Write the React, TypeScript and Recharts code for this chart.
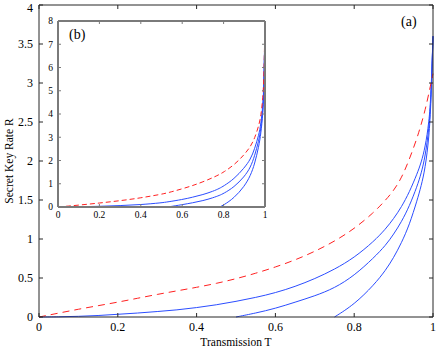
import React from "react";
import { ComposedChart, Line, XAxis, YAxis, CartesianGrid } from "recharts";

// main panel (a)
const mainT = [0, 0.05, 0.1, 0.15, 0.2, 0.25, 0.3, 0.35, 0.4, 0.45, 0.5, 0.55, 0.6, 0.65, 0.7, 0.75, 0.8, 0.85, 0.88, 0.9, 0.92, 0.94, 0.96, 0.97, 0.98, 0.99, 0.995, 1];
const mainBound = [0, 0.05, 0.1, 0.145, 0.19, 0.24, 0.29, 0.335, 0.38, 0.43, 0.49, 0.56, 0.64, 0.73, 0.84, 0.97, 1.13, 1.34, 1.5, 1.62, 1.78, 2.02, 2.3, 2.47, 2.65, 2.88, 3.0, 3.12];
const mainHigh = [0, 0.002, 0.008, 0.018, 0.035, 0.05, 0.07, 0.09, 0.12, 0.155, 0.2, 0.25, 0.31, 0.39, 0.49, 0.61, 0.76, 0.97, 1.13, 1.26, 1.41, 1.6, 1.84, 1.98, 2.17, 2.5, 2.85, 3.6];
const mainMid = [null, null, null, null, null, null, null, null, null, null, 0, 0.05, 0.11, 0.19, 0.27, 0.37, 0.53, 0.76, 0.92, 1.06, 1.22, 1.42, 1.68, 1.84, 2.05, 2.42, 2.8, 3.6];
const mainLow = [null, null, null, null, null, null, null, null, null, null, null, null, null, null, null, 0, 0.16, 0.41, 0.6, 0.76, 0.95, 1.18, 1.5, 1.68, 1.9, 2.3, 2.75, 3.6];

// inset panel (b)
const insetT = [0, 0.1, 0.2, 0.3, 0.4, 0.5, 0.53, 0.6, 0.65, 0.7, 0.75, 0.78, 0.8, 0.85, 0.9, 0.93, 0.95, 0.97, 0.98, 0.99, 0.995, 1];
const insetBound = [0, 0.08, 0.17, 0.27, 0.39, 0.55, 0.61, 0.78, 0.92, 1.08, 1.27, 1.4, 1.5, 1.8, 2.25, 2.6, 2.95, 3.5, 3.9, 4.7, 5.6, 8];
const insetHigh = [0, 0.005, 0.03, 0.06, 0.1, 0.18, 0.22, 0.32, 0.42, 0.53, 0.68, 0.8, 0.9, 1.2, 1.68, 2.05, 2.5, 3.1, 3.55, 4.4, 5.3, 8];
const insetMid = [null, null, null, null, null, null, 0, 0.1, 0.18, 0.27, 0.4, 0.5, 0.58, 0.85, 1.3, 1.7, 2.2, 2.85, 3.35, 4.2, 5.1, 8];
const insetLow = [null, null, null, null, null, null, null, null, null, null, null, 0, 0.08, 0.38, 0.88, 1.35, 1.85, 2.6, 3.15, 4.0, 5.0, 8];

const xTicks = [0, 0.2, 0.4, 0.6, 0.8, 1];
const mainYTicks = [0, 0.5, 1, 1.5, 2, 2.5, 3, 3.5, 4];
const insetYTicks = [0, 1, 2, 3, 4, 5, 6, 7, 8];

const mainRows = mainT.map((t, i) => ({ t, bound: mainBound[i], high: mainHigh[i], mid: mainMid[i], low: mainLow[i] }));
const insetRows = insetT.map((t, i) => ({ t, bound: insetBound[i], high: insetHigh[i], mid: insetMid[i], low: insetLow[i] }));

const font = "Liberation Serif";
const blue = "#2b4dff";
const red = "#ff2020";
const blank = () => "";

const curves = (dash: string) => [
    <Line key="h" dataKey="high" type="basis" stroke={blue} strokeWidth={1} dot={false} isAnimationActive={false} />,
    <Line key="m" dataKey="mid" type="basis" stroke={blue} strokeWidth={1} dot={false} isAnimationActive={false} />,
    <Line key="l" dataKey="low" type="basis" stroke={blue} strokeWidth={1} dot={false} isAnimationActive={false} />,
    <Line key="b" dataKey="bound" type="basis" stroke={red} strokeWidth={1} strokeDasharray={dash} dot={false} isAnimationActive={false} />,
    // invisible series tied to the top/right frame axes
    <Line key="f" xAxisId="top" yAxisId="right" dataKey="high" stroke="none" dot={false} activeDot={false} isAnimationActive={false} />,
];

export default function App() {
    const mainTick = { fontSize: 12, fill: "#000", fontFamily: font };
    const insetTick = { fontSize: 9.5, fill: "#000", fontFamily: font };
    const frame = { stroke: "#262626" };
    const insetFrame = { stroke: "#7a7a7a", strokeWidth: 2 };
    const insetTickLine = { stroke: "#7a7a7a" };
    return (
        <div style={{ position: "absolute", left: 0, top: 0, width: 436, height: 353, background: "#fff", fontFamily: font }}>
            <ComposedChart width={436} height={353} data={mainRows} margin={{ top: 4, right: 2, bottom: 0, left: 9 }}>
                <XAxis dataKey="t" type="number" domain={[0, 1]} ticks={xTicks} height={36} tickSize={-4} tickMargin={9}
                    axisLine={frame} tickLine={frame} tick={mainTick}
                    label={{ value: "Transmission T", position: "insideBottom", offset: 7, fontSize: 11.5, fill: "#000", fontFamily: font }} />
                <XAxis xAxisId="top" orientation="top" dataKey="t" type="number" domain={[0, 1]} ticks={xTicks} height={1} tickSize={-4}
                    allowDataOverflow axisLine={frame} tickLine={frame} tickFormatter={blank} />
                <YAxis type="number" domain={[0, 4]} ticks={mainYTicks} width={30} tickSize={-4} tickMargin={10}
                    axisLine={frame} tickLine={frame} tick={mainTick} />
                <YAxis yAxisId="right" orientation="right" type="number" domain={[0, 4]} ticks={mainYTicks} width={1} tickSize={-4}
                    allowDataOverflow axisLine={frame} tickLine={frame} tickFormatter={blank} />
                {curves("7 5")}
            </ComposedChart>

            <div style={{ position: "absolute", left: 9, top: 161, transform: "translate(-50%, -50%) rotate(-90deg)", fontSize: 11.5, whiteSpace: "nowrap" }}>
                Secret Key Rate R
            </div>
            <div style={{ position: "absolute", left: 401, top: 14, fontSize: 14 }}>(a)</div>

            <div style={{ position: "absolute", left: 38, top: 14, width: 232, height: 210 }}>
                <ComposedChart width={232} height={210} data={insetRows} margin={{ top: 6, right: 4, bottom: 0, left: 0 }}>
                    <CartesianGrid horizontal={false} vertical={false} fill="#fff" />
                    <XAxis dataKey="t" type="number" domain={[0, 1]} ticks={xTicks} height={17} tickSize={-3} tickMargin={7}
                        axisLine={insetFrame} tickLine={insetTickLine} tick={insetTick} />
                    <XAxis xAxisId="top" orientation="top" dataKey="t" type="number" domain={[0, 1]} ticks={xTicks} height={1} tickSize={-3}
                        allowDataOverflow axisLine={insetFrame} tickLine={insetTickLine} tickFormatter={blank} />
                    <YAxis type="number" domain={[0, 8]} ticks={insetYTicks} width={20} tickSize={-3} tickMargin={8}
                        axisLine={insetFrame} tickLine={insetTickLine} tick={insetTick} />
                    <YAxis yAxisId="right" orientation="right" type="number" domain={[0, 8]} ticks={insetYTicks} width={1} tickSize={-3}
                        allowDataOverflow axisLine={insetFrame} tickLine={insetTickLine} tickFormatter={blank} />
                    {curves("5 3")}
                </ComposedChart>
                <div style={{ position: "absolute", left: 31, top: 13, fontSize: 14 }}>(b)</div>
            </div>
        </div>
    );
}
